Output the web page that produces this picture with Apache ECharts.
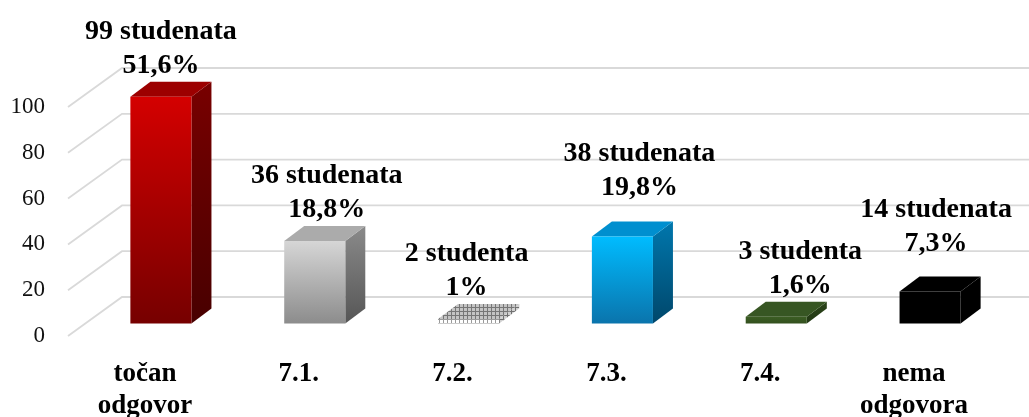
<!DOCTYPE html>
<html>
<head>
<meta charset="utf-8">
<script src="https://cdn.jsdelivr.net/npm/echarts@6/dist/echarts.min.js"></script>
<style>
  html, body { margin: 0; padding: 0; background: #fff; }
  #chart { width: 1029px; height: 417px; }
</style>
</head>
<body>
<div id="chart"></div>
<script>
// Answers to question 7: number of students per answer
const categories = ['točan\nodgovor', '7.1.', '7.2.', '7.3.', '7.4.', 'nema\nodgovora'];
const students = [99, 36, 2, 38, 3, 14];
const studentWords = ['studenata', 'studenata', 'studenta', 'studenata', 'studenta', 'studenata'];
const percents = ['51,6%', '18,8%', '1%', '19,8%', '1,6%', '7,3%'];
const yTicks = [0, 20, 40, 60, 80, 100];

// Perspective of the box: wall depth, bar placement inside it, bar depth
const WALL_DX = 54, WALL_DY = -39;
const BAR_DX = 16, BAR_DY = -12.5;
const DEPTH_DX = 20, DEPTH_DY = -15;
const BAR_RATIO = 0.397;

// Small nudges of the value labels (horizontal shift, extra lift)
const labelShift = [0, 12, -2, 17, 24, 6];
const labelLift = [0, 0, 0, 18, 0, 17];

const SERIF = '"Liberation Serif", "Times New Roman", serif';

function grad(c0, c1) {
  return new echarts.graphic.LinearGradient(0, 0, 0, 1, [
    { offset: 0, color: c0 }, { offset: 1, color: c1 }
  ]);
}

// Mesh fill used by the 7.2 bar
function meshPattern(bg, line) {
  const c = document.createElement('canvas');
  c.width = 4; c.height = 4;
  const g = c.getContext('2d');
  g.fillStyle = bg; g.fillRect(0, 0, 4, 4);
  g.fillStyle = line;
  g.fillRect(3, 0, 1, 4);
  g.fillRect(0, 3, 4, 1);
  return { image: c, repeat: 'repeat' };
}

const faceStyles = [
  { front: grad('#d40000', '#760000'), side: grad('#780000', '#480000'), top: '#9c0000' },
  { front: grad('#d6d6d6', '#8c8c8c'), side: grad('#8a8a8a', '#565656'), top: '#ababab' },
  { front: meshPattern('#ffffff', '#9a9a9a'), side: meshPattern('#d0d0d0', '#707070'), top: meshPattern('#c4c4c4', '#767676') },
  { front: grad('#00bcff', '#0a74ac'), side: grad('#0077ad', '#00476b'), top: '#008fcf' },
  { front: grad('#3c5e24', '#33501e'), side: grad('#2b4419', '#223814'), top: '#375623' },
  { front: '#000000', side: '#000000', top: '#000000' }
];

const chart = echarts.init(document.getElementById('chart'));

chart.setOption({
  animation: false,
  backgroundColor: '#ffffff',
  grid: { left: 68, right: 38, top: 107, bottom: 81, containLabel: false, outerBoundsMode: 'none' },
  xAxis: {
    type: 'category',
    data: categories,
    axisLine: { show: false },
    axisTick: { show: false },
    splitLine: { show: false },
    axisLabel: {
      interval: 0,
      margin: 22,
      color: '#000',
      fontFamily: SERIF,
      fontWeight: 'bold',
      fontSize: 27,
      lineHeight: 32
    }
  },
  yAxis: {
    type: 'value',
    min: 0,
    max: 100,
    interval: 20,
    axisLine: { show: false },
    axisTick: { show: false },
    splitLine: { show: false },
    axisLabel: {
      margin: 23,
      color: '#111',
      fontFamily: SERIF,
      fontSize: 23
    }
  },
  series: [
    {
      // side floor lines and back wall gridlines
      type: 'custom',
      coordinateSystem: 'cartesian2d',
      clip: false,
      silent: true,
      z: 1,
      data: yTicks.map(v => [0, v]),
      encode: { x: 0, y: 1 },
      renderItem: function (params, api) {
        const cs = params.coordSys;
        const y = api.coord([0, api.value(1)])[1];
        const x0 = cs.x;
        return {
          type: 'polyline',
          shape: { points: [[x0, y], [x0 + WALL_DX, y + WALL_DY], [cs.x + cs.width + 100, y + WALL_DY]] },
          style: { stroke: '#d9d9d9', lineWidth: 1.8, fill: null }
        };
      }
    },
    {
      // 3D bars with value labels
      type: 'custom',
      coordinateSystem: 'cartesian2d',
      clip: false,
      z: 2,
      data: students.map((v, i) => [i, v]),
      encode: { x: 0, y: 1 },
      renderItem: function (params, api) {
        const i = api.value(0);
        const v = api.value(1);
        const base = api.coord([i, 0]);
        const top = api.coord([i, v]);
        const band = api.size([1, 0])[0];
        const w = band * BAR_RATIO;
        const xl = base[0] - w / 2 + BAR_DX;
        const xr = xl + w;
        const yb = base[1] + BAR_DY;
        const yt = top[1] + BAR_DY;
        const st = faceStyles[i];
        const label = students[i] + ' ' + studentWords[i] + '\n' + percents[i];
        return {
          type: 'group',
          children: [
            {
              type: 'polygon',
              shape: { points: [[xr, yt], [xr + DEPTH_DX, yt + DEPTH_DY], [xr + DEPTH_DX, yb + DEPTH_DY], [xr, yb]] },
              style: { fill: st.side }
            },
            {
              type: 'polygon',
              shape: { points: [[xl, yt], [xl + DEPTH_DX, yt + DEPTH_DY], [xr + DEPTH_DX, yt + DEPTH_DY], [xr, yt]] },
              style: { fill: st.top }
            },
            {
              type: 'rect',
              shape: { x: xl, y: yt, width: w, height: yb - yt },
              style: { fill: st.front }
            },
            {
              type: 'text',
              x: (xl + xr) / 2 + labelShift[i],
              y: yt + DEPTH_DY + 1 - labelLift[i],
              style: {
                text: label,
                align: 'center',
                verticalAlign: 'bottom',
                font: 'bold 28px ' + SERIF,
                lineHeight: 34,
                fill: '#000'
              }
            }
          ]
        };
      }
    }
  ]
});
</script>
</body>
</html>
